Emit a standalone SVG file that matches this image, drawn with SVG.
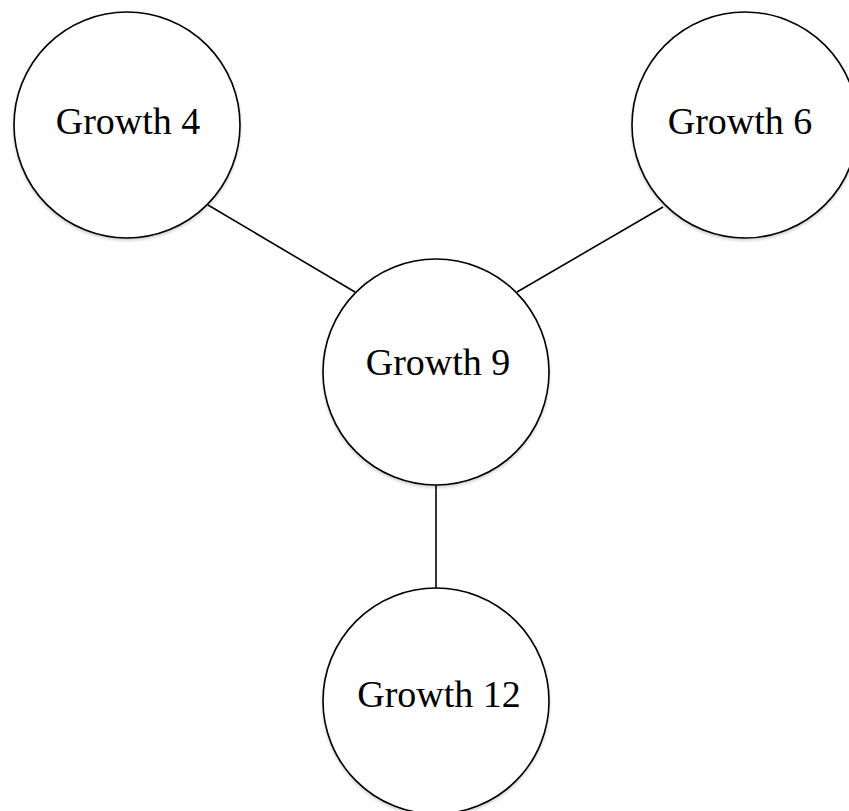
<svg xmlns="http://www.w3.org/2000/svg" width="849" height="811" viewBox="0 0 849 811">
  <defs>
    <filter id="soft" x="-10%" y="-10%" width="120%" height="125%">
      <feDropShadow dx="0" dy="2" stdDeviation="1.5" flood-color="#000" flood-opacity="0.18"/>
    </filter>
  </defs>
  <style>
    .node circle { fill: #fff; stroke: #000; stroke-width: 1.6; filter: url(#soft); }
    .node text { font-family: "Liberation Serif", "DejaVu Serif", serif; font-size: 38px; fill: #000; text-anchor: middle; }
    .links line { stroke: #000; stroke-width: 1.6; }
  </style>
  <rect width="849" height="811" fill="#fff"/>

  <g class="links">
    <line x1="208" y1="205" x2="355" y2="292"/>
    <line x1="663" y1="207" x2="517" y2="292"/>
    <line x1="436" y1="485" x2="436" y2="588"/>
  </g>

  <g id="growth4" class="node">
    <circle cx="127" cy="125" r="113"/>
    <text x="128" y="134">Growth 4</text>
  </g>
  <g id="growth6" class="node">
    <circle cx="745" cy="125" r="113"/>
    <text x="740" y="134">Growth 6</text>
  </g>
  <g id="growth9" class="node">
    <circle cx="436" cy="372" r="113"/>
    <text x="438" y="375">Growth 9</text>
  </g>
  <g id="growth12" class="node">
    <circle cx="436" cy="701" r="113"/>
    <text x="439" y="707">Growth 12</text>
  </g>
</svg>
